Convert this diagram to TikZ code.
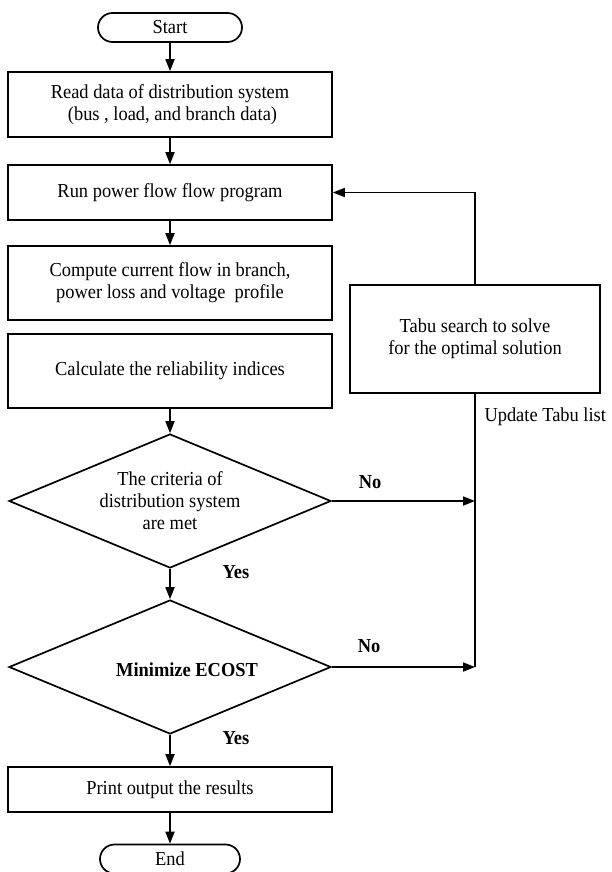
\documentclass[tikz,border=0pt]{standalone}
\usepackage{fontspec}
\setmainfont{Liberation Serif}[FakeStretch=0.93]
\usetikzlibrary{arrows.meta,shapes.geometric}
\begin{document}
\begin{tikzpicture}[x=1pt,y=-1pt,
  every node/.style={font=\fontsize{19.8}{22}\selectfont},
  line/.style={line width=1.7pt},
  arr/.style={line width=1.7pt,-{Triangle[length=12pt,width=9pt]}},
  procbox/.style={draw,line width=1.7pt,rectangle,align=center,minimum width=324pt,inner sep=0pt},
  term/.style={draw,line width=1.7pt,rectangle,rounded corners=14.5pt,minimum width=144pt,minimum height=29pt,inner sep=0pt},
  decision/.style={draw,line width=1.7pt,diamond,aspect=2.4,minimum width=322pt,minimum height=134pt,inner sep=0pt,align=center},
  lbl/.style={font=\fontsize{19.8}{22}\selectfont\bfseries}
]
\useasboundingbox (0,0) rectangle (611,872);

\node[term] (start) at (170,27.5) {Start};
\node[procbox,minimum height=65pt] (read) at (170,104.5) {Read data of distribution system\\\hspace{5pt}(bus , load, and branch data)};
\node[procbox,minimum height=55pt] (run) at (170,192.5) {Run power flow flow program};
\node[procbox,minimum height=74pt] (comp) at (170,283) {Compute current flow in branch,\\power loss and voltage~ profile};
\node[procbox,minimum height=74pt] (calc) at (170,371) {Calculate the reliability indices};
\node[decision] (d1) at (170,501) {The criteria of\\distribution system\\are met};
\node[decision,label={[lbl,xshift=17pt,yshift=-3pt]center:Minimize ECOST}] (d2) at (170,667) {};
\node[procbox,minimum height=45pt] (print) at (170,789.5) {Print output the results};
\node[term,minimum width=140pt] (end) at (170,859) {End};
\node[draw,line width=1.7pt,minimum width=250pt,minimum height=108pt,align=center,inner sep=0pt] (tabu) at (475,339) {Tabu search to solve\\for the optimal solution};
\node[anchor=west] (upd) at (481,417) {Update Tabu list};
\node[lbl] (no1) at (370,482) {No};
\node[lbl] (no2) at (369,646) {No};
\node[lbl] (yes1) at (236,572) {Yes};
\node[lbl] (yes2) at (236,738) {Yes};

\coordinate (j1) at (tabu.center |- d1.east);
\coordinate (j2) at (tabu.center |- d2.east);
\coordinate (jt) at (tabu.center |- run.east);

\draw[arr] (start) -- (read);
\draw[arr] (read) -- (run);
\draw[arr] (run) -- (comp);
\draw[arr] (calc) -- (d1);
\draw[arr] (d1) -- (d2);
\draw[arr] (d2) -- (print);
\draw[arr] (print) -- (end);
\draw[arr] (d1.east) -- (j1);
\draw[arr] (d2.east) -- (j2);
\draw[line] (tabu.south) -- (j2);
\draw[arr] (tabu.north) -- (jt) -- (run.east);
\end{tikzpicture}
\end{document}
